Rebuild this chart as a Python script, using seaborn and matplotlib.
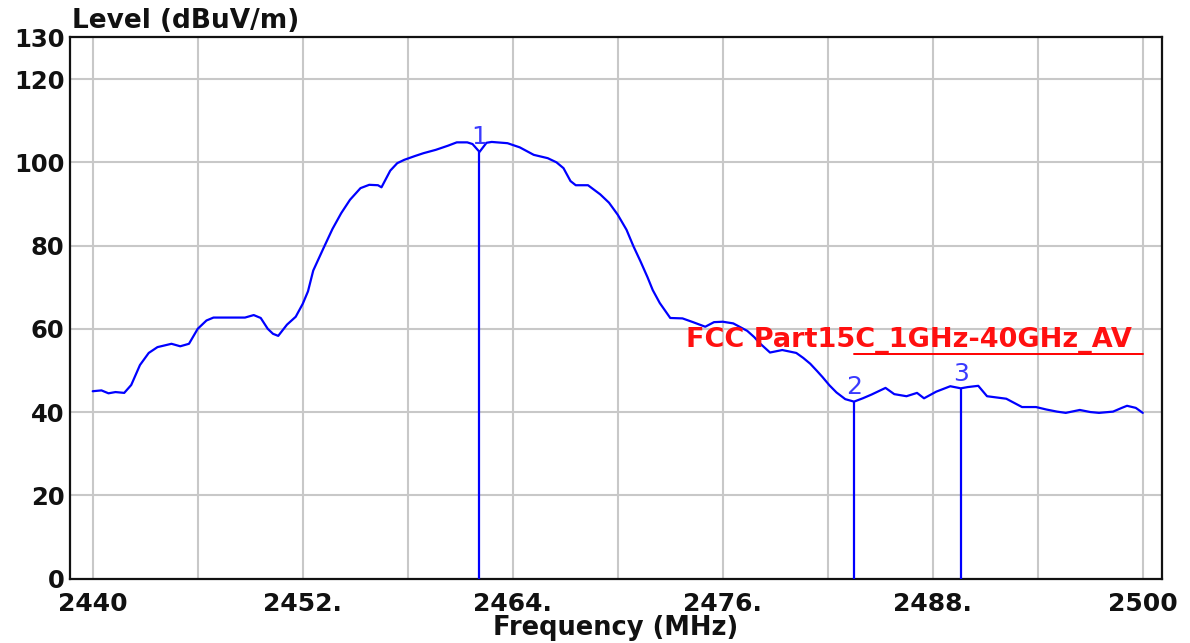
import matplotlib
matplotlib.use("Agg")
import matplotlib.pyplot as plt
import seaborn as sns
import pandas as pd

# Measured spectrum trace (MHz, dBuV/m)
freq = [2440.0, 2440.5, 2440.9, 2441.3, 2441.8, 2442.2, 2442.7, 2443.2, 2443.7, 2444.1,
        2444.5, 2445.0, 2445.5, 2446.0, 2446.5, 2446.9, 2447.8, 2448.7, 2449.2, 2449.6,
        2450.0, 2450.3, 2450.6, 2451.1, 2451.6, 2452.0, 2452.3, 2452.6, 2453.2, 2453.7,
        2454.2, 2454.7, 2455.3, 2455.8, 2456.3, 2456.5, 2457.0, 2457.4, 2457.8, 2458.4,
        2458.9, 2459.6, 2460.3, 2460.8, 2461.4, 2461.7, 2462.1, 2462.5, 2462.8, 2463.7,
        2464.4, 2465.2, 2466.0, 2466.5, 2466.9, 2467.3, 2467.6, 2468.3, 2469.0, 2469.5,
        2470.0, 2470.5, 2470.9, 2471.3, 2471.7, 2472.0, 2472.4, 2472.7, 2473.0, 2473.7,
        2474.3, 2475.0, 2475.5, 2476.0, 2476.6, 2477.0, 2477.4, 2477.8, 2478.1, 2478.7,
        2479.4, 2480.2, 2480.6, 2481.0, 2481.4, 2481.7, 2482.1, 2482.5, 2483.0, 2483.5,
        2484.0, 2484.5, 2485.0, 2485.3, 2485.8, 2486.5, 2487.1, 2487.5, 2488.2, 2489.0,
        2489.6, 2490.0, 2490.6, 2491.1, 2492.2, 2493.1, 2493.9, 2494.5, 2495.1, 2495.6,
        2496.4, 2497.0, 2497.5, 2498.3, 2498.8, 2499.1, 2499.6, 2500.0]
level = [45.0, 45.2, 44.5, 44.8, 44.6, 46.5, 51.3, 54.2, 55.6, 56.0,
         56.4, 55.8, 56.4, 60.0, 62.0, 62.7, 62.7, 62.7, 63.3, 62.6,
         60.0, 58.8, 58.3, 61.0, 62.9, 66.0, 69.0, 74.0, 79.5, 84.0,
         87.8, 91.0, 93.8, 94.6, 94.5, 94.0, 98.0, 99.8, 100.6, 101.5,
         102.2, 103.0, 104.0, 104.8, 104.8, 104.4, 102.5, 104.7, 104.9, 104.6,
         103.6, 101.8, 101.0, 100.0, 98.6, 95.5, 94.5, 94.5, 92.3, 90.3,
         87.4, 83.8, 79.8, 76.2, 72.4, 69.3, 66.2, 64.4, 62.6, 62.5,
         61.6, 60.5, 61.6, 61.7, 61.3, 60.4, 59.5, 58.0, 56.6, 54.3,
         54.9, 54.2, 53.0, 51.6, 49.8, 48.4, 46.4, 44.7, 43.1, 42.5,
         43.3, 44.2, 45.2, 45.8, 44.3, 43.8, 44.6, 43.3, 44.9, 46.2,
         45.7, 46.0, 46.3, 43.8, 43.2, 41.2, 41.2, 40.6, 40.1, 39.8,
         40.5, 40.0, 39.8, 40.1, 41.0, 41.5, 41.0, 39.8]

# Markers
marker_freq = [2462.1, 2483.5, 2489.6]
marker_level = [102.5, 42.5, 45.7]
marker_names = ["1", "2", "3"]

# Limit line
limit_freq = [2483.5, 2500.0]
limit_level = [54.0, 54.0]
limit_name = "FCC Part15C_1GHz-40GHz_AV"

# Axis ticks
x_major = [2440, 2452, 2464, 2476, 2488, 2500]
x_major_labels = ["2440", "2452.", "2464.", "2476.", "2488.", "2500"]
x_minor = [2446, 2458, 2470, 2482, 2494]
y_ticks = [0, 20, 40, 60, 80, 100, 120, 130]

sns.set_style("white")
plt.rcParams["font.family"] = ["DejaVu Sans"]

fig = plt.figure(figsize=(11.9, 6.43), dpi=100)
ax = fig.add_axes([0.0588, 0.1003, 0.9177, 0.8414])

grid_color = "#c8c8c8"
for gx in x_major + x_minor:
    ax.axvline(gx, color=grid_color, lw=1.5, zorder=0)
for gy in y_ticks[1:-1]:
    ax.axhline(gy, color=grid_color, lw=1.5, zorder=0)

df = pd.DataFrame({"freq": freq, "level": level})
sns.lineplot(data=df, x="freq", y="level", ax=ax, color="#0000ff", lw=1.6,
             sort=False, zorder=3)

lim_df = pd.DataFrame({"freq": limit_freq, "level": limit_level})
sns.lineplot(data=lim_df, x="freq", y="level", ax=ax, color="#ff0000", lw=1.4, zorder=2)
ax.text(2499.4, 55.6, limit_name, color="#ff1010", fontsize=19.5, fontweight="bold",
        ha="right", va="baseline", zorder=4)

ax.vlines(marker_freq, 0, marker_level, color="#0000ff", lw=1.6, zorder=3)
for mf, ml, mn in zip(marker_freq, marker_level, marker_names):
    ax.annotate(mn, (mf, ml), xytext=(0, 2), textcoords="offset points",
                ha="center", va="bottom", color="#3a3aff", fontsize=18, zorder=4)

ax.set_xlim(2438.7, 2501.1)
ax.set_ylim(0, 130)
ax.set_xticks(x_major)
ax.set_xticklabels(x_major_labels)
ax.set_yticks(y_ticks)
ax.set_yticklabels([str(v) for v in y_ticks])
ax.tick_params(axis="both", length=0, colors="#111111")
ax.tick_params(axis="x", pad=10, labelsize=18)
ax.tick_params(axis="y", pad=4, labelsize=17.5)
for lab in ax.get_xticklabels() + ax.get_yticklabels():
    lab.set_fontweight("bold")

ax.set_xlabel("Frequency (MHz)", fontsize=18.5, fontweight="bold", color="#111111", labelpad=-1)
ax.set_ylabel("")
fig.text(0.0605, 0.957, "Level (dBuV/m)", fontsize=19, fontweight="bold",
         color="#111111", ha="left", va="baseline")

for sp in ax.spines.values():
    sp.set_visible(True)
    sp.set_color("#111111")
    sp.set_linewidth(1.6)

fig.savefig("out.png", dpi=100, facecolor="white")
